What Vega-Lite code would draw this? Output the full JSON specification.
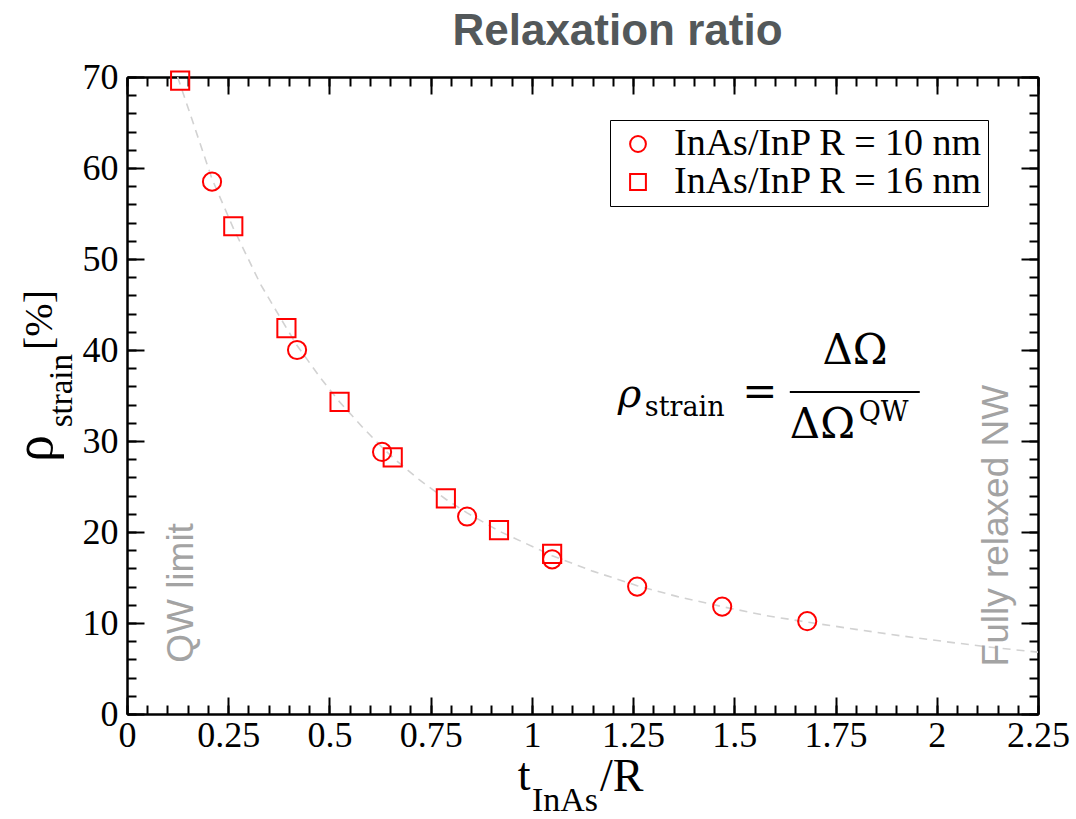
{
  "$schema": "https://vega.github.io/schema/vega-lite/v6.json",
  "width": 911,
  "height": 637,
  "autosize": {"type": "none"},
  "padding": {"left": 127, "top": 77, "right": 38, "bottom": 105},
  "background": "white",
  "title": {
    "text": "Relaxation ratio",
    "font": "Liberation Sans Narrow, Liberation Sans, sans-serif",
    "fontWeight": "bold",
    "fontSize": 44,
    "color": "#53585a",
    "anchor": "middle",
    "dx": 35,
    "offset": 5
  },
  "config": {
    "view": {"stroke": null},
    "axis": {
      "domainColor": "black",
      "domainWidth": 2,
      "tickColor": "black",
      "tickWidth": 2,
      "grid": false,
      "labelFont": "Liberation Serif",
      "labelFontSize": 36,
      "labelColor": "black",
      "labelFlush": false,
      "title": null
    }
  },
  "resolve": {"axis": {"x": "independent", "y": "independent"}},
  "layer": [
    {
      "data": {"values": [
        {"t": 0.125, "rho": 70.0}, {"t": 0.16, "rho": 65.4}, {"t": 0.21, "rho": 58.8},
        {"t": 0.2625, "rho": 53.4}, {"t": 0.33, "rho": 47.2}, {"t": 0.394, "rho": 42.4},
        {"t": 0.42, "rho": 40.5}, {"t": 0.48, "rho": 36.8}, {"t": 0.525, "rho": 34.3},
        {"t": 0.58, "rho": 31.6}, {"t": 0.63, "rho": 29.3}, {"t": 0.656, "rho": 28.2},
        {"t": 0.72, "rho": 25.8}, {"t": 0.7875, "rho": 23.6}, {"t": 0.84, "rho": 22.1},
        {"t": 0.919, "rho": 20.1}, {"t": 1.05, "rho": 17.4}, {"t": 1.15, "rho": 15.7},
        {"t": 1.26, "rho": 14.1}, {"t": 1.36, "rho": 12.9}, {"t": 1.47, "rho": 11.8},
        {"t": 1.58, "rho": 10.8}, {"t": 1.68, "rho": 10.1}, {"t": 1.8, "rho": 9.3},
        {"t": 1.91, "rho": 8.6}, {"t": 2.03, "rho": 7.9}, {"t": 2.14, "rho": 7.3},
        {"t": 2.25, "rho": 6.8}
      ]},
      "mark": {"type": "line", "color": "#d2d2d2", "strokeDash": [8, 6], "strokeWidth": 1.6},
      "encoding": {
        "x": {"field": "t", "type": "quantitative",
          "scale": {"domain": [0, 2.25], "nice": false, "zero": false},
          "axis": {"orient": "bottom", "tickSize": -9, "labels": false,
            "values": [0,0.05,0.1,0.15,0.2,0.25,0.3,0.35,0.4,0.45,0.5,0.55,0.6,0.65,0.7,0.75,0.8,0.85,0.9,0.95,1,1.05,1.1,1.15,1.2,1.25,1.3,1.35,1.4,1.45,1.5,1.55,1.6,1.65,1.7,1.75,1.8,1.85,1.9,1.95,2,2.05,2.1,2.15,2.2,2.25]}},
        "y": {"field": "rho", "type": "quantitative",
          "scale": {"domain": [0, 70], "nice": false},
          "axis": {"orient": "left", "tickSize": -9, "labels": false,
            "values": [0,2,4,6,8,10,12,14,16,18,20,22,24,26,28,30,32,34,36,38,40,42,44,46,48,50,52,54,56,58,60,62,64,66,68,70]}}
      }
    },
    {
      "data": {"values": [
        {"t": 0.21, "rho": 58.5, "series": "InAs/InP R = 10 nm"},
        {"t": 0.42, "rho": 40.0, "series": "InAs/InP R = 10 nm"},
        {"t": 0.63, "rho": 28.8, "series": "InAs/InP R = 10 nm"},
        {"t": 0.84, "rho": 21.7, "series": "InAs/InP R = 10 nm"},
        {"t": 1.05, "rho": 17.0, "series": "InAs/InP R = 10 nm"},
        {"t": 1.26, "rho": 14.0, "series": "InAs/InP R = 10 nm"},
        {"t": 1.47, "rho": 11.8, "series": "InAs/InP R = 10 nm"},
        {"t": 1.68, "rho": 10.2, "series": "InAs/InP R = 10 nm"},
        {"t": 0.13125, "rho": 69.6, "series": "InAs/InP R = 16 nm"},
        {"t": 0.2625, "rho": 53.6, "series": "InAs/InP R = 16 nm"},
        {"t": 0.39375, "rho": 42.4, "series": "InAs/InP R = 16 nm"},
        {"t": 0.525, "rho": 34.3, "series": "InAs/InP R = 16 nm"},
        {"t": 0.65625, "rho": 28.2, "series": "InAs/InP R = 16 nm"},
        {"t": 0.7875, "rho": 23.7, "series": "InAs/InP R = 16 nm"},
        {"t": 0.91875, "rho": 20.2, "series": "InAs/InP R = 16 nm"},
        {"t": 1.05, "rho": 17.6, "series": "InAs/InP R = 16 nm"}
      ]},
      "mark": {"type": "point", "filled": false, "color": "#ff0000", "strokeWidth": 2, "opacity": 1, "size": 330},
      "encoding": {
        "x": {"field": "t", "type": "quantitative",
          "scale": {"domain": [0, 2.25], "nice": false, "zero": false},
          "axis": {"orient": "bottom", "tickSize": -17, "labelPadding": 21, "format": ".3~g",
            "values": [0,0.25,0.5,0.75,1,1.25,1.5,1.75,2,2.25]}},
        "y": {"field": "rho", "type": "quantitative",
          "scale": {"domain": [0, 70], "nice": false},
          "axis": {"orient": "left", "tickSize": -17, "labelPadding": 26, "format": ".3~g",
            "values": [0,10,20,30,40,50,60,70]}},
        "shape": {"field": "series", "type": "nominal",
          "scale": {"domain": ["InAs/InP R = 10 nm", "InAs/InP R = 16 nm"], "range": ["circle", "square"]},
          "legend": {
            "title": null, "orient": "none", "legendX": 483, "legendY": 43,
            "strokeColor": "black", "fillColor": "white", "padding": 5,
            "labelFont": "Liberation Serif", "labelFontSize": 38, "labelColor": "black",
            "symbolSize": 250, "symbolStrokeWidth": 2, "symbolStrokeColor": "#ff0000",
            "symbolFillColor": "transparent", "symbolOffset": 4, "labelOffset": 17,
            "rowPadding": 0, "labelLimit": 500
          }}
      }
    },
    {
      "data": {"values": [{}]},
      "mark": {"type": "rule", "color": "black", "strokeWidth": 2},
      "encoding": {
        "x": {"datum": 1.637, "type": "quantitative",
          "scale": {"domain": [0, 2.25], "nice": false, "zero": false},
          "axis": {"orient": "top", "tickSize": -17, "labels": false,
            "values": [0,0.25,0.5,0.75,1,1.25,1.5,1.75,2,2.25]}},
        "x2": {"datum": 1.958},
        "y": {"datum": 35.38, "type": "quantitative",
          "scale": {"domain": [0, 70], "nice": false},
          "axis": {"orient": "right", "tickSize": -17, "labels": false,
            "values": [0,10,20,30,40,50,60,70]}}
      }
    },
    {
      "data": {"values": [{}]},
      "mark": {"type": "text", "text": "ρ", "font": "DejaVu Serif", "fontStyle": "italic", "fontSize": 40, "align": "left", "baseline": "alphabetic", "color": "black"},
      "encoding": {
        "x": {"datum": 1.212, "type": "quantitative",
          "scale": {"domain": [0, 2.25], "nice": false, "zero": false},
          "axis": {"orient": "top", "tickSize": -9, "labels": false,
            "values": [0,0.05,0.1,0.15,0.2,0.25,0.3,0.35,0.4,0.45,0.5,0.55,0.6,0.65,0.7,0.75,0.8,0.85,0.9,0.95,1,1.05,1.1,1.15,1.2,1.25,1.3,1.35,1.4,1.45,1.5,1.55,1.6,1.65,1.7,1.75,1.8,1.85,1.9,1.95,2,2.05,2.1,2.15,2.2,2.25]}},
        "y": {"datum": 33.74, "type": "quantitative",
          "scale": {"domain": [0, 70], "nice": false},
          "axis": {"orient": "right", "tickSize": -9, "labels": false,
            "values": [0,2,4,6,8,10,12,14,16,18,20,22,24,26,28,30,32,34,36,38,40,42,44,46,48,50,52,54,56,58,60,62,64,66,68,70]}}
      }
    },
    {
      "data": {"values": [{}]},
      "mark": {"type": "text", "text": "strain", "font": "DejaVu Serif", "fontSize": 27, "align": "left", "baseline": "alphabetic", "color": "black"},
      "encoding": {
        "x": {"datum": 1.279, "type": "quantitative", "axis": null},
        "y": {"datum": 32.75, "type": "quantitative", "axis": null}
      }
    },
    {
      "data": {"values": [{}]},
      "mark": {"type": "text", "text": "=", "font": "DejaVu Serif", "fontSize": 42, "align": "center", "baseline": "alphabetic", "color": "black"},
      "encoding": {
        "x": {"datum": 1.563, "type": "quantitative", "axis": null},
        "y": {"datum": 33.8, "type": "quantitative", "axis": null}
      }
    },
    {
      "data": {"values": [{}]},
      "mark": {"type": "text", "text": "ΔΩ", "font": "DejaVu Serif", "fontSize": 42, "align": "center", "baseline": "alphabetic", "color": "black"},
      "encoding": {
        "x": {"datum": 1.798, "type": "quantitative", "axis": null},
        "y": {"datum": 38.46, "type": "quantitative", "axis": null}
      }
    },
    {
      "data": {"values": [{}]},
      "mark": {"type": "text", "text": "ΔΩ", "font": "DejaVu Serif", "fontSize": 42, "align": "left", "baseline": "alphabetic", "color": "black"},
      "encoding": {
        "x": {"datum": 1.637, "type": "quantitative", "axis": null},
        "y": {"datum": 30.33, "type": "quantitative", "axis": null}
      }
    },
    {
      "data": {"values": [{}]},
      "mark": {"type": "text", "text": "QW", "font": "DejaVu Serif", "fontSize": 27, "align": "left", "baseline": "alphabetic", "color": "black"},
      "encoding": {
        "x": {"datum": 1.807, "type": "quantitative", "axis": null},
        "y": {"datum": 32.2, "type": "quantitative", "axis": null}
      }
    },
    {
      "data": {"values": [{}]},
      "mark": {"type": "text", "text": "QW limit", "font": "Liberation Sans", "fontSize": 37, "align": "center", "baseline": "alphabetic", "angle": 270, "color": "#a3a3a3"},
      "encoding": {
        "x": {"datum": 0.163, "type": "quantitative", "axis": null},
        "y": {"datum": 13.3, "type": "quantitative", "axis": null}
      }
    },
    {
      "data": {"values": [{}]},
      "mark": {"type": "text", "text": "Fully relaxed NW", "font": "Liberation Sans", "fontSize": 37, "align": "center", "baseline": "alphabetic", "angle": 270, "color": "#a3a3a3"},
      "encoding": {
        "x": {"datum": 2.175, "type": "quantitative", "axis": null},
        "y": {"datum": 20.7, "type": "quantitative", "axis": null}
      }
    },
    {
      "data": {"values": [{}]},
      "mark": {"type": "text", "text": "t", "font": "Liberation Serif", "fontSize": 46, "align": "left", "baseline": "alphabetic", "color": "black"},
      "encoding": {
        "x": {"datum": 0.965, "type": "quantitative", "axis": null},
        "y": {"datum": -8.35, "type": "quantitative", "axis": null}
      }
    },
    {
      "data": {"values": [{}]},
      "mark": {"type": "text", "text": "InAs", "font": "Liberation Serif", "fontSize": 34, "align": "left", "baseline": "alphabetic", "color": "black"},
      "encoding": {
        "x": {"datum": 1.0, "type": "quantitative", "axis": null},
        "y": {"datum": -10.65, "type": "quantitative", "axis": null}
      }
    },
    {
      "data": {"values": [{}]},
      "mark": {"type": "text", "text": "/R", "font": "Liberation Serif", "fontSize": 46, "align": "left", "baseline": "alphabetic", "color": "black"},
      "encoding": {
        "x": {"datum": 1.168, "type": "quantitative", "axis": null},
        "y": {"datum": -8.5, "type": "quantitative", "axis": null}
      }
    },
    {
      "data": {"values": [{}]},
      "mark": {"type": "text", "text": "ρ", "font": "Liberation Serif", "fontSize": 54, "align": "left", "baseline": "alphabetic", "angle": 270, "color": "black"},
      "encoding": {
        "x": {"datum": -0.185, "type": "quantitative", "axis": null},
        "y": {"datum": 27.7, "type": "quantitative", "axis": null}
      }
    },
    {
      "data": {"values": [{}]},
      "mark": {"type": "text", "text": "strain", "font": "Liberation Serif", "fontSize": 33, "align": "left", "baseline": "alphabetic", "angle": 270, "color": "black"},
      "encoding": {
        "x": {"datum": -0.136, "type": "quantitative", "axis": null},
        "y": {"datum": 31.5, "type": "quantitative", "axis": null}
      }
    },
    {
      "data": {"values": [{}]},
      "mark": {"type": "text", "text": "[%]", "font": "Liberation Serif", "fontSize": 40, "align": "left", "baseline": "alphabetic", "angle": 270, "color": "black"},
      "encoding": {
        "x": {"datum": -0.185, "type": "quantitative", "axis": null},
        "y": {"datum": 40.0, "type": "quantitative", "axis": null}
      }
    }
  ]
}
